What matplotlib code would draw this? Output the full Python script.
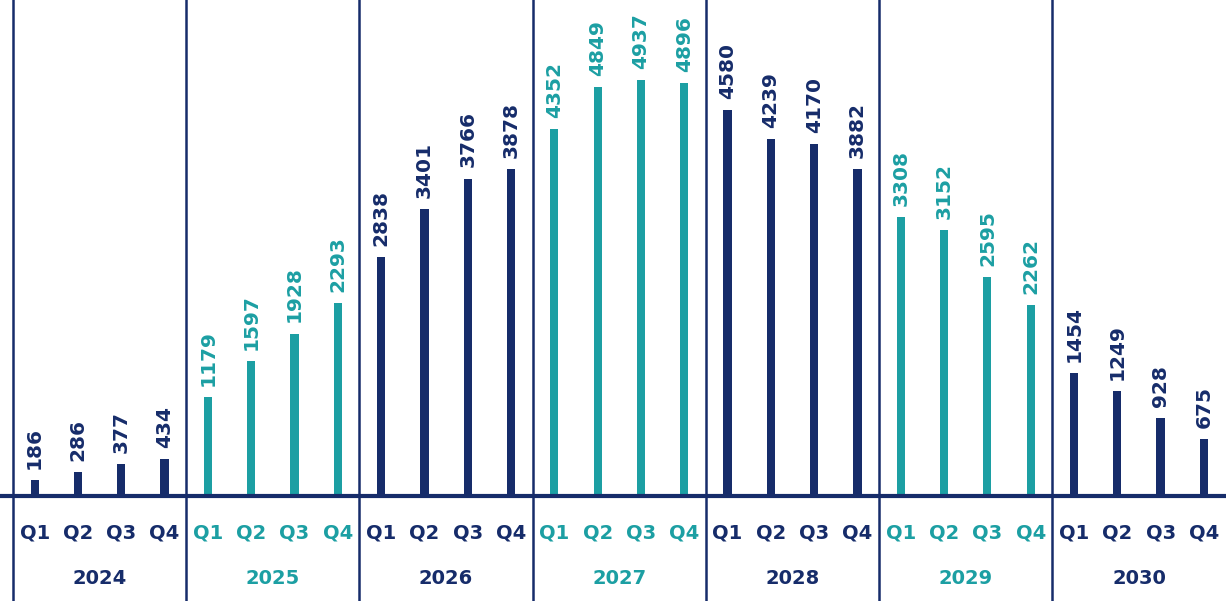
import matplotlib
matplotlib.use("Agg")
import matplotlib.pyplot as plt
import numpy as np

# data
years = ["2024", "2025", "2026", "2027", "2028", "2029", "2030"]
quarters = ["Q1", "Q2", "Q3", "Q4"]
values = [186, 286, 377, 434,
          1179, 1597, 1928, 2293,
          2838, 3401, 3766, 3878,
          4352, 4849, 4937, 4896,
          4580, 4239, 4170, 3882,
          3308, 3152, 2595, 2262,
          1454, 1249, 928, 675]

navy = "#162c6a"
teal = "#1c9fa3"

fig = plt.figure(figsize=(12.26, 6.01), dpi=100)
ax = fig.add_axes([0, 0, 1, 1])

x = np.arange(len(values))
colors = [navy if (i // 4) % 2 == 0 else teal for i in x]

ax.bar(x, values, width=0.19, color=colors, zorder=2)

for xi, v, c in zip(x, values, colors):
    ax.annotate(str(v), (xi, v), xytext=(0, 8), textcoords="offset points",
                rotation=90, ha="center", va="bottom", color=c,
                fontsize=14.5, fontweight="bold")

# quarter + year labels
for g, yr in enumerate(years):
    c = navy if g % 2 == 0 else teal
    for q, ql in enumerate(quarters):
        ax.text(g * 4 + q, -440, ql, ha="center", va="center", color=c,
                fontsize=14, fontweight="bold")
    ax.text(g * 4 + 1.5, -975, yr, ha="center", va="center", color=c,
            fontsize=14, fontweight="bold")

# separators
for g in range(len(years)):
    ax.axvline(g * 4 - 0.5, color=navy, lw=1.8, zorder=1)
ax.axhline(0, color=navy, lw=3, zorder=3)

ax.set_xlim(-0.8, 27.51)
ax.set_ylim(-1245, 5884)
ax.axis("off")

fig.savefig("out.png", dpi=100)
